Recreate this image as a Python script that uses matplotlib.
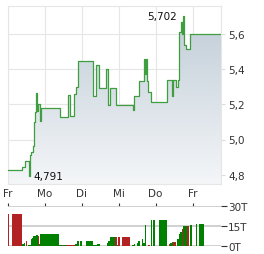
import matplotlib
matplotlib.use("Agg")
import matplotlib.pyplot as plt
import numpy as np
from matplotlib.colors import LinearSegmentedColormap

# price steps: time in trading days since first Friday, price in EUR
t_price = [0.00, 0.38, 0.46, 0.57, 0.60, 0.62, 0.68, 0.70, 0.73, 0.76, 0.79, 0.81,
           0.87, 0.89, 1.41, 1.63, 1.68, 1.79, 1.84, 1.90, 2.30, 2.38, 2.47, 2.66,
           2.71, 2.76, 2.93, 3.39, 3.41, 3.55, 3.69, 3.71, 3.74, 3.77, 3.79, 3.88,
           4.31, 4.44, 4.47, 4.55, 4.61, 4.63, 4.69, 4.72, 4.74, 4.77, 4.82, 4.93, 5.77]
price = [4.828, 4.845, 4.880, 4.791, 4.910, 4.930, 4.965, 5.100, 5.156, 5.264, 5.160, 5.200,
         5.107, 5.180, 5.130, 5.255, 5.135, 5.260, 5.300, 5.445, 5.250, 5.425, 5.295, 5.400,
         5.195, 5.295, 5.195, 5.170, 5.250, 5.330, 5.455, 5.370, 5.460, 5.330, 5.270, 5.212,
         5.340, 5.250, 5.340, 5.300, 5.340, 5.610, 5.670, 5.600, 5.702, 5.540, 5.515, 5.600, 5.600]

day_labels = ["Fr", "Mo", "Di", "Mi", "Do", "Fr"]
price_ticks = [4.8, 5.0, 5.2, 5.4, 5.6]

# volume bars (start, end in trading days), volume in thousands, up/down
vol_start = [0.00, 0.12, 0.38, 0.42, 0.50, 0.55, 0.61, 0.64, 0.69, 0.76, 0.80, 0.84, 0.87, 1.12,
             1.38, 1.45, 1.50, 1.57, 1.82, 1.86, 1.95, 2.11, 2.31, 2.40, 2.67, 2.72, 2.76, 2.90,
             2.95, 2.99, 3.08, 3.11, 3.35, 3.40, 3.49, 3.53, 3.62, 3.67, 3.71, 3.80, 3.88, 3.92,
             4.09, 4.35, 4.39, 4.44, 4.48, 4.57, 4.62, 4.66, 4.71, 4.75, 4.86, 4.93, 5.08, 5.17]
vol_end = [0.03, 0.38, 0.42, 0.46, 0.52, 0.61, 0.64, 0.69, 0.76, 0.80, 0.84, 0.87, 1.12, 1.38,
           1.45, 1.50, 1.57, 1.82, 1.86, 1.91, 2.00, 2.29, 2.40, 2.49, 2.72, 2.76, 2.90, 2.95,
           2.99, 3.04, 3.11, 3.31, 3.40, 3.44, 3.53, 3.58, 3.67, 3.71, 3.74, 3.85, 3.90, 3.98,
           4.30, 4.39, 4.44, 4.48, 4.54, 4.62, 4.66, 4.71, 4.75, 4.86, 4.90, 4.98, 5.13, 5.31]
volume = [23.75, 23.75, 1.5, 2.5, 3.75, 0.75, 5, 6, 7.5, 8, 7.5, 1.25, 8.75, 8.75,
          0.75, 0.75, 0.75, 0.75, 1.75, 3.5, 3.5, 3.5, 0.75, 1.25, 2.5, 3.75, 7, 7,
          0.75, 7, 7, 7, 0.75, 1.75, 2.5, 3.75, 5, 2.5, 15.5, 0.75, 19.5, 19.5,
          19.5, 1.75, 2.5, 3.25, 3.25, 5, 8.75, 10.5, 13, 15, 15, 15.5, 16.25, 16.25]
vol_up = [0, 0, 1, 1, 0, 1, 1, 1, 1, 1, 0, 1, 1, 1,
          1, 0, 1, 0, 1, 1, 1, 1, 1, 1, 1, 1, 1, 0,
          1, 0, 0, 0, 1, 1, 1, 1, 1, 1, 1, 0, 1, 1,
          1, 0, 1, 1, 0, 1, 1, 1, 0, 1, 0, 1, 1, 1]
vol_ticks = [0, 15, 30]

txt = "#333333"
fig = plt.figure(figsize=(2.64, 2.55), dpi=100)
ax = fig.add_axes([8 / 264, 1 - 185 / 255, 213 / 264, 178 / 255])
ymin, ymax = 4.747, 5.759
xmax = t_price[-1]

# gradient fill under the line
poly = ax.fill_between(t_price, price, ymin, step="post", color="none")
cmap = LinearSegmentedColormap.from_list("g", ["#f4f6f8", "#c6d1db"])
grad = np.linspace(0, 1, 256).reshape(-1, 1)
im = ax.imshow(grad, cmap=cmap, origin="lower", aspect="auto",
               extent=[0, xmax, ymin, 5.62], zorder=1)
im.set_clip_path(poly.get_paths()[0], transform=ax.transData)
ax.step(t_price, price, where="post", color="#3f9e3f", lw=0.9, zorder=3)

imax = int(np.argmax(price))
imin = int(np.argmin(price))
ax.text(t_price[imax] - 0.17, price[imax], f"{price[imax]:.3f}".replace(".", ","),
        ha="right", va="center", fontsize=7.5, color="#111111", zorder=4)
ax.text(t_price[imin] + 0.12, price[imin], f"{price[imin]:.3f}".replace(".", ","),
        ha="left", va="center", fontsize=7.5, color="#111111", zorder=4)

ax.set_xlim(0, xmax)
ax.set_ylim(ymin, ymax)
ax.set_xticks(range(len(day_labels)))
ax.set_xticklabels(day_labels)
ax.set_yticks(price_ticks)
ax.set_yticklabels([f"{v:.1f}".replace(".", ",") for v in price_ticks])
ax.yaxis.tick_right()
ax.tick_params(axis="x", length=0, pad=3, labelsize=7.5, colors=txt)
ax.tick_params(axis="y", length=3, pad=2, labelsize=7.5, colors="#dddddd",
               labelcolor=txt)
ax.grid(True, color="#e6e6e6", lw=0.8, zorder=0)
ax.set_axisbelow(True)
for s in ax.spines.values():
    s.set_color("#e6e6e6")
    s.set_linewidth(0.8)

# volume panel
vx = fig.add_axes([8 / 264, 1 - 247 / 255, 213 / 264, 40 / 255])
vs = np.array(vol_start)
ve = np.array(vol_end)
cols = ["#008000" if u else "#b22222" for u in vol_up]
vx.bar(vs, volume, width=ve - vs, align="edge", color=cols, lw=0, zorder=2)
vx.set_xlim(0, xmax)
vx.set_ylim(0, 30)
vx.set_yticks(vol_ticks)
vx.set_yticklabels([f"{v}T" for v in vol_ticks])
vx.yaxis.tick_right()
vx.xaxis.tick_top()
vx.set_xticks(range(len(day_labels)))
vx.set_xticklabels([])
vx.tick_params(axis="x", length=2, width=0.8, colors="#333333")
vx.tick_params(axis="y", length=4, width=0.8, pad=1, labelsize=7.5, colors="#333333")
vx.grid(True, axis="y", color="#c8c8c8", lw=1.2, zorder=0)
vx.set_axisbelow(True)
for s in vx.spines.values():
    s.set_visible(False)

fig.savefig("out.png", dpi=100)
